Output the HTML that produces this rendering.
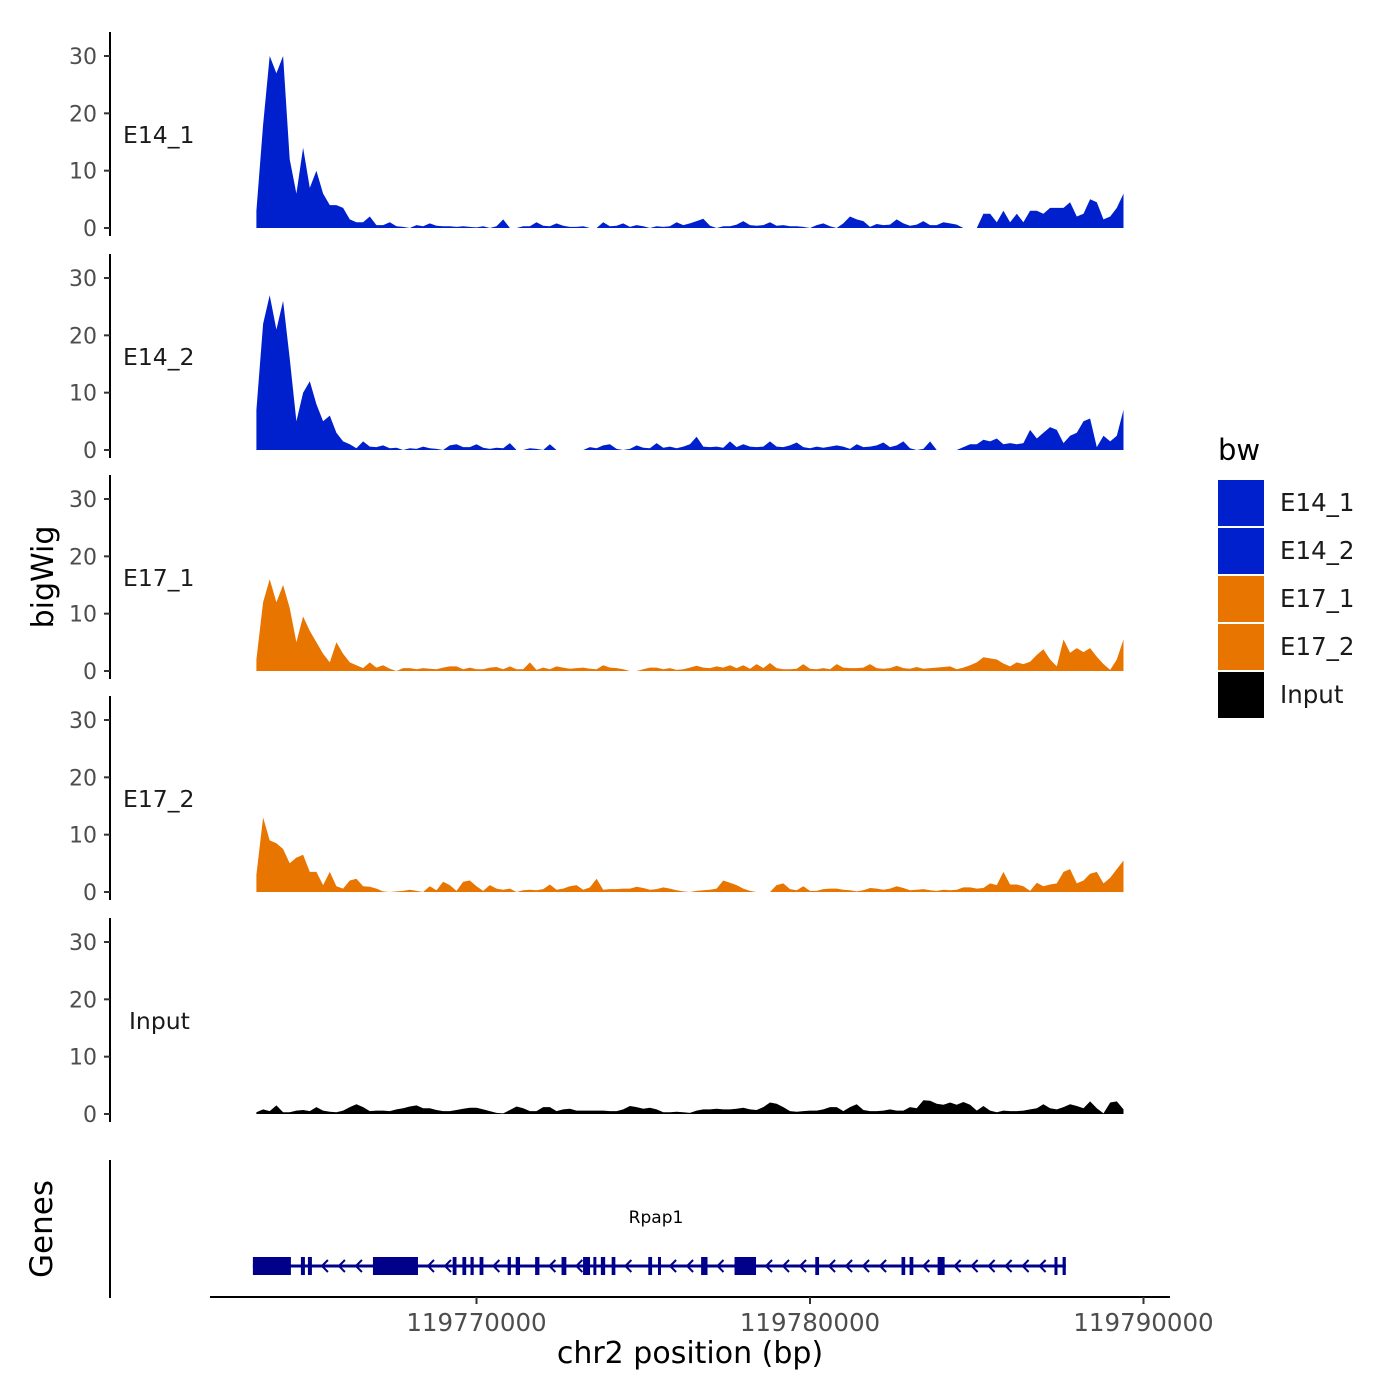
<!DOCTYPE html>
<html><head><meta charset="utf-8"><style>
html,body{margin:0;padding:0;background:#fff;}
svg{display:block;font-family:"DejaVu Sans","Liberation Sans",sans-serif;}
</style></head><body>
<svg id="chart" width="1400" height="1400" viewBox="0 0 1400 1400" xmlns="http://www.w3.org/2000/svg"></svg>
<script>
// ---- data ----
const trackNames = ["E14_1","E14_2","E17_1","E17_2","Input"];
const binStart = 119763400;
const binStep = 200;
const e14_1 = [3,18,30,27,30,12,6,14,7,10,6,4,4,3.5,1.5,1,1,2,0.5,0.5,1,0.3,0.2,0,0.5,0.3,0.8,0.4,0.3,0.3,0.2,0.3,0.2,0.1,0.3,0,0.3,1.5,0,0,0.3,0.3,1,0.4,0.3,0.8,0.4,0.2,0.2,0.3,0,0,1,0.3,0.4,0.8,0.2,0.5,0.3,0,0.3,0.2,0.3,1,0.5,0.8,1.2,1.6,0.4,0,0.3,0.3,0.6,1.2,0.5,0.4,0.5,1,0.4,0.5,0.3,0.3,0.2,0,0.5,0.8,0.3,0,0.8,2,1.5,1.2,0.2,0.7,0.5,0.6,1.5,0.8,0.4,0.6,1.2,0.5,0.5,1,0.8,0.6,0,0,0,2.5,2.5,1,3,1,2.5,1,3,3,2.5,3.5,3.5,3.5,4.5,2,2.5,5,4.5,1.5,2,3.5,6];
const e14_2 = [7,22,27,21,26,16,5,10,12,8,5,6,3,1.5,1,0.3,1.5,0.6,0.5,0.8,0.3,0.4,0,0.3,0.2,0.6,0.3,0.2,0,0.8,1,0.5,0.5,1,0.4,0.2,0.4,0.3,1.2,0,0,0.3,0.2,0,1,0,0,0,0,0,0.5,0.3,0.8,1,0.2,0,0.2,0.8,0.4,0.3,1.2,0.4,0.6,0.3,0.6,1,2.3,0.6,0.5,0.6,0.4,1.5,0.5,1,0.6,0.5,0.6,1.5,0.6,0.5,0.8,1.3,0.5,0.3,0.6,0.4,0.6,0.8,0.6,0.2,1,0.5,0.6,0.8,1.3,0.5,0.8,1.5,0.3,0,0.2,1.5,0,0,0,0,0.5,1,1,1.8,1.5,2,1,1.2,1,1.2,3.5,2,3,4,3.5,1.2,2.5,3,5,5.5,0.5,2.5,1.5,2.5,7];
const e17_1 = [2,12,16,12,15,11,5,9.5,7,5,3,1.5,5,3,1.5,1,0.5,1.5,0.6,1,0.4,0,0.5,0.5,0.3,0.5,0.4,0.3,0.6,0.8,0.8,0.3,0.6,0.3,0.3,0.6,0.7,0.3,0.8,0.3,0.3,1.5,0.2,0.6,0.3,0.8,0.6,0.4,0.5,0.6,0.4,0.3,1,0.6,0.5,0.3,0,0,0.3,0.6,0.6,0.3,0.5,0.2,0.3,0.6,0.9,0.6,0.5,0.8,0.6,1,0.5,1,0.4,1.2,0.5,1.4,0.5,0.3,0.3,0.4,1.2,0.4,0.3,0.5,0.3,1.2,0.6,0.5,0.5,0.6,1.2,0.5,0.4,0.5,0.9,0.5,0.4,0.7,0.4,0.5,0.6,0.7,0.8,0.3,0.6,1,1.5,2.4,2.2,2,1.3,0.8,1.5,1.2,1.6,2.8,3.8,2,0.8,5.5,3.2,4,3.3,4,2.5,1.2,0.2,2,5.5];
const e17_2 = [3,13,9,8.5,7.5,5,6,6.5,3.5,3.5,1.2,3.5,1,0.6,2,2.3,1,0.9,0.6,0.1,0,0.1,0.2,0.4,0.2,0,1,0.3,1.8,1.2,0.2,1.8,2,1,0.2,1.2,0.6,0.4,0.6,0,0.3,0.4,0.3,0.5,1.3,0.4,0.6,1,1.2,0.4,0.8,2.3,0.4,0.5,0.5,0.6,0.6,0.9,0.7,0.4,0.5,0.8,0.6,0.3,0.1,0,0.2,0.3,0.4,0.6,2,1.6,1.2,0.6,0.2,0,0,0,1.2,1.5,0.5,0.3,1,0.2,0.2,0.5,0.6,0.6,0.4,0.3,0.1,0.3,0.7,0.6,0.4,0.6,1,0.7,0.3,0.4,0.5,0.3,0.2,0.4,0.3,0.4,0.8,0.8,0.6,0.7,1.5,1.2,3.5,1.3,1.3,1,0.2,1.6,1,1.3,1.5,3.5,4,1.5,2,3.2,3.5,1.5,2.5,4,5.5];
const inputSig = [0.3,0.8,0.5,1.5,0.3,0.3,0.6,0.7,0.5,1.2,0.6,0.4,0.3,0.6,1.2,1.7,1.2,0.5,0.6,0.6,0.5,0.8,1,1.3,1.5,1,1,0.7,0.5,0.5,0.7,0.9,1.1,1.1,0.8,0.5,0.2,0.1,0.7,1.3,1,0.5,0.5,1.2,1.2,0.5,0.8,0.9,0.6,0.6,0.6,0.6,0.6,0.5,0.5,0.8,1.4,1.2,0.9,1.1,0.8,0.3,0.3,0.4,0.3,0.2,0.6,0.8,0.8,0.9,0.8,0.8,0.9,1.1,0.8,0.7,1.2,2,1.8,1.2,0.5,0.4,0.5,0.6,0.6,0.8,1.2,1.2,0.5,1.2,1.7,0.7,0.5,0.5,0.6,0.8,0.6,0.6,1.2,1,2.4,2.3,1.8,1.6,2,1.6,2.1,1.6,0.6,1.4,0.6,0.3,0.6,0.5,0.5,0.6,0.8,1,1.7,1,0.8,1.2,1.7,1.4,1,2.2,1,0.1,2,2.2,0.8];
const trackColors = ["#0020CD","#0020CD","#E87500","#E87500","#000000"];
const yTicks = [0,10,20,30];
const xTicks = [119770000,119780000,119790000];
// exon coordinates relative to 119770000 (bp)
const geneOffset = 119770000;
const exonStart = [-6705,-5265,-5055,-3105,-714,-423,-180,93,933,1176,1758,2550,3195,3504,3729,4053,5151,5442,6735,7737,10158,12744,12987,13827,17331,17574];
const exonEnd   = [-5565,-5145,-4935,-1755,-600,-309,-84,207,1032,1305,1887,2694,3405,3585,3858,4164,5265,5505,6927,8382,10272,12855,13098,14037,17415,17670];
const geneName = "Rpap1";

// ---- scales ----
const NS="http://www.w3.org/2000/svg";
const svg=document.getElementById('chart');
function xs(bp){return 476.5+(bp-119770000)*0.03335;}
const zeroYs=[228,450,671,892,1114];
const pxPerUnit=172/30;
function ys(p,v){return zeroYs[p]-v*pxPerUnit;}
function mk(tag,attrs,parent){const e=document.createElementNS(NS,tag);for(const k in attrs)e.setAttribute(k,attrs[k]);(parent||svg).appendChild(e);return e;}
const series=[e14_1,e14_2,e17_1,e17_2,inputSig];

series.forEach((vals,p)=>{
  const g=mk('g',{});
  
  
  const ax=mk('line',{x1:110,x2:110,y1:zeroYs[p]-196,y2:zeroYs[p]+8,stroke:'#000','stroke-width':2},g);
  
  
  yTicks.forEach(t=>{
    const y=ys(p,t);
    const tk=mk('line',{x1:104,x2:110,y1:y,y2:y,stroke:'#333','stroke-width':2},g);
    
    
    const tl=mk('text',{x:97,y:y+8,'text-anchor':'end','font-size':22,fill:'#4d4d4d'},g);
    tl.textContent=String(t);
    
    
  });
  const lab=mk('text',{x:p===4?129:123,y:zeroYs[p]-85,'font-size':23.5,fill:'#1a1a1a'},g);
  lab.textContent=trackNames[p];
  
  
  let d='M'+xs(binStart).toFixed(1)+','+zeroYs[p];
  vals.forEach((v,i)=>{d+=' L'+xs(binStart+i*binStep).toFixed(1)+','+ys(p,v).toFixed(1);});
  d+=' L'+xs(binStart+(vals.length-1)*binStep).toFixed(1)+','+zeroYs[p]+' Z';
  const area=mk('path',{d:d,fill:trackColors[p]},g);
  
  
});

const yt=mk('text',{x:0,y:0,'font-size':30,fill:'#000','text-anchor':'middle',transform:'translate(53,577) rotate(-90)'});
yt.textContent='bigWig';



const gg=mk('g',{});


const gax=mk('line',{x1:110,x2:110,y1:1160,y2:1298,stroke:'#000','stroke-width':2},gg);


const gt=mk('text',{x:0,y:0,'font-size':31,fill:'#000','text-anchor':'middle',transform:'translate(52,1229) rotate(-90)'},gg);
gt.textContent='Genes';


const gl=mk('line',{x1:xs(geneOffset+exonStart[0]),x2:xs(geneOffset+exonEnd[exonEnd.length-1]),y1:1266,y2:1266,stroke:'#00008B','stroke-width':3},gg);


for(let i=0;i<exonStart.length-1;i++){
  const a=xs(geneOffset+exonEnd[i]),b=xs(geneOffset+exonStart[i+1]);
  for(let x=a+12;x<b-4;x+=17){
    const c=mk('path',{d:`M${x+4},1260 L${x-2},1266 L${x+4},1272`,fill:'none',stroke:'#00008B','stroke-width':2},gg);
    
    
  }
}
exonStart.forEach((s,i)=>{
  const x1=xs(geneOffset+s),x2=xs(geneOffset+exonEnd[i]);
  const r=mk('rect',{x:x1,y:1257,width:Math.max(x2-x1,3),height:18,fill:'#00008B'},gg);
  
  
});
const gn=mk('text',{x:656,y:1223,'font-size':17,'text-anchor':'middle',fill:'#000'},gg);
gn.textContent=geneName;



const xa=mk('line',{x1:210,x2:1170,y1:1297,y2:1297,stroke:'#000','stroke-width':2});


xTicks.forEach(t=>{
  const x=xs(t);
  const tk=mk('line',{x1:x,x2:x,y1:1297,y2:1304,stroke:'#333','stroke-width':2});
  
  
  const tl=mk('text',{x:x,y:1331,'text-anchor':'middle','font-size':24.5,fill:'#4d4d4d'});
  tl.textContent=String(t);
  
  
});
const xt=mk('text',{x:690,y:1363,'text-anchor':'middle','font-size':30,fill:'#000'});
xt.textContent='chr2 position (bp)';



const lg=mk('g',{});


const lt=mk('text',{x:1218,y:460,'font-size':29,fill:'#000'},lg);
lt.textContent='bw';


trackNames.forEach((n,i)=>{
  const y=480+i*48;
  const r=mk('rect',{x:1218,y:y,width:46,height:46,fill:trackColors[i]},lg);
  
  
  const t=mk('text',{x:1280,y:y+31,'font-size':24.5,fill:'#1a1a1a'},lg);
  t.textContent=n;
  
  
});
</script>
</body></html>
